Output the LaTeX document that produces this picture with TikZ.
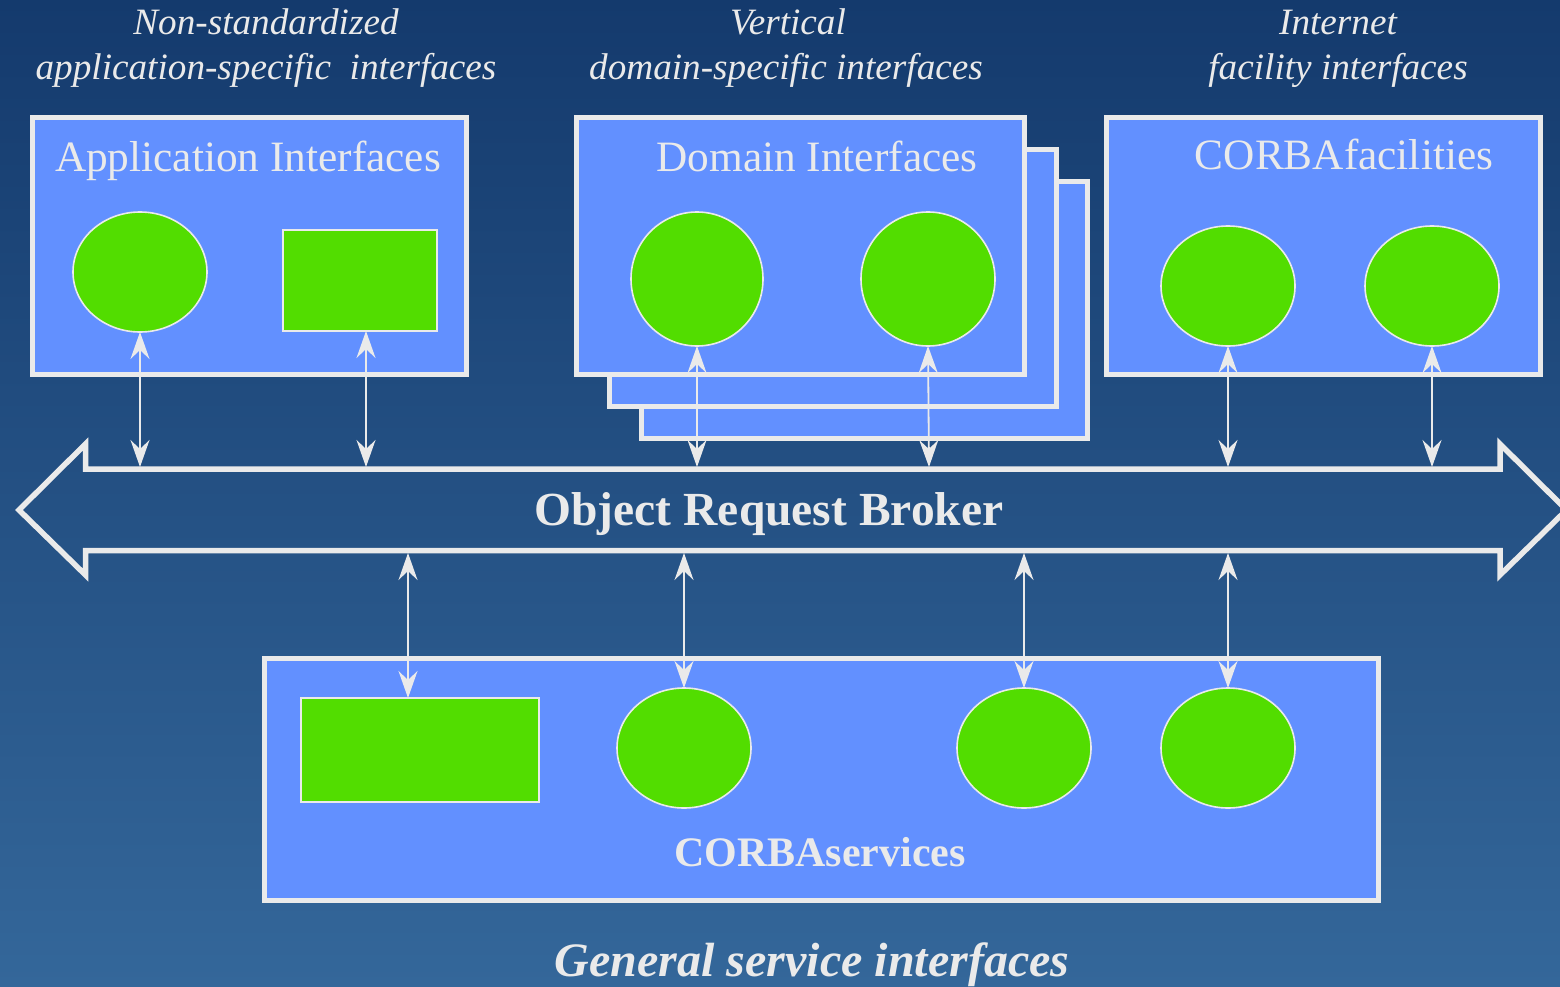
\documentclass[tikz,border=0pt]{standalone}
\usepackage{fontspec}
\setmainfont{Liberation Serif}
\usetikzlibrary{arrows.meta,shapes.geometric}
\definecolor{skytop}{HTML}{143A6D}
\definecolor{skybot}{HTML}{34679A}
\definecolor{panelblue}{HTML}{6290FF}
\definecolor{leaf}{HTML}{52DD00}
\definecolor{edge}{HTML}{EAEAEA}
\tikzset{
  panel/.style={rectangle, draw=edge, line width=5pt, fill=panelblue, inner sep=0pt, outer sep=0pt},
  blob/.style={ellipse, draw=edge, line width=1.6pt, fill=leaf, inner sep=0pt, outer sep=0pt},
  slab/.style={rectangle, draw=edge, line width=1.6pt, fill=leaf, inner sep=0pt, outer sep=0pt},
  link/.style={draw=edge, line width=1.8pt,
    {Stealth[length=27pt,width=19pt,inset=9pt]}-{Stealth[length=27pt,width=19pt,inset=9pt]}},
  caption/.style={text=edge, inner sep=0pt, anchor=base, font=\fontsize{37.2}{44}\selectfont\itshape},
  title/.style={text=edge, inner sep=0pt, anchor=base, font=\fontsize{43.3}{50}\selectfont},
  bigtitle/.style={text=edge, inner sep=0pt, anchor=base, font=\fontsize{47.5}{56}\selectfont\bfseries},
  orbline/.style={draw=edge, line width=5.5pt, miter limit=10, line join=miter},
}
\begin{document}
\begin{tikzpicture}[x=1pt,y=-1pt]
\useasboundingbox (0,0) rectangle (1560,987);
\shade[top color=skytop, bottom color=skybot] (0,0) rectangle (1560,987);

% headings over the three upper groups
\node[caption] (capA1) at (266,35) {Non-standardized};
\node[caption] (capA2) at (266,80) {application-specific\ \ interfaces};
\node[caption] (capB1) at (788,35) {Vertical};
\node[caption] (capB2) at (786,80) {domain-specific interfaces};
\node[caption] (capC1) at (1338,35) {Internet};
\node[caption] (capC2) at (1338,80) {facility interfaces};

% application interfaces
\node[panel, minimum width=434pt, minimum height=256pt] (app) at (249,246) {};
\node[title] (appT) at (248,172) {Application Interfaces};
\node[blob, minimum width=134pt, minimum height=120pt] (appE) at (140,272) {};
\node[slab, minimum width=154pt, minimum height=101pt] (appR) at (360,280.5) {};

% domain interfaces, stacked
\node[panel, minimum width=446pt, minimum height=256pt] (domC) at (864,310) {};
\node[panel, minimum width=447pt, minimum height=256pt] (domB) at (832.5,278) {};
\node[panel, minimum width=448pt, minimum height=256pt] (dom) at (800,246) {};
\node[title] (domT) at (817,172) {Domain Interfaces};
\node[blob, minimum width=132pt, minimum height=134pt] (domE1) at (697,279) {};
\node[blob, minimum width=134pt, minimum height=134pt] (domE2) at (928,279) {};

% CORBAfacilities
\node[panel, minimum width=434pt, minimum height=256pt] (fac) at (1323,246) {};
\node[title] (facT) at (1344,170) {CORBAfacilities};
\node[blob, minimum width=134pt, minimum height=120pt] (facE1) at (1228,286) {};
\node[blob, minimum width=134pt, minimum height=120pt] (facE2) at (1432,286) {};

% object request broker
\draw[orbline] (85.5,469) -- (85.5,444) -- (19,510) -- (85.5,575) -- (85.5,550.5)
  -- (1500,550.5) -- (1500,575) -- (1566.5,510) -- (1500,444) -- (1500,469) -- cycle;
\node[bigtitle] (orbT) at (769,525) {Object Request Broker};
\foreach \n/\x in {a/140,b/366,c/697,d/929,e/1228,f/1432}
  \coordinate (orbTop\n) at (\x,467);
\foreach \n/\x in {a/408,b/684,c/1024,d/1228}
  \coordinate (orbBot\n) at (\x,553);

% CORBAservices
\node[panel, minimum width=1114pt, minimum height=242pt] (srv) at (821,779) {};
\node[slab, minimum width=238pt, minimum height=104pt] (srvR) at (420,750) {};
\node[blob, minimum width=134pt, minimum height=120pt] (srvE1) at (684,748) {};
\node[blob, minimum width=134pt, minimum height=120pt] (srvE2) at (1024,748) {};
\node[blob, minimum width=134pt, minimum height=120pt] (srvE3) at (1228,748) {};
\node[title, font=\fontsize{42}{50}\selectfont\bfseries] (srvT) at (820,866) {CORBAservices};
\node[bigtitle, font=\fontsize{48}{56}\selectfont\bfseries\itshape] (genT) at (812,976) {General service interfaces};

% connectors to the broker
\draw[link] (appE.south) -- (orbTopa);
\draw[link] (appR.south -| orbTopb) -- (orbTopb);
\draw[link] (domE1.south) -- (orbTopc);
\draw[link] (domE2.south) -- (orbTopd);
\draw[link] (facE1.south) -- (orbTope);
\draw[link] (facE2.south) -- (orbTopf);
\draw[link] (orbBota) -- (orbBota |- srvR.north);
\draw[link] (orbBotb) -- (srvE1.north);
\draw[link] (orbBotc) -- (srvE2.north);
\draw[link] (orbBotd) -- (srvE3.north);
\end{tikzpicture}
\end{document}
